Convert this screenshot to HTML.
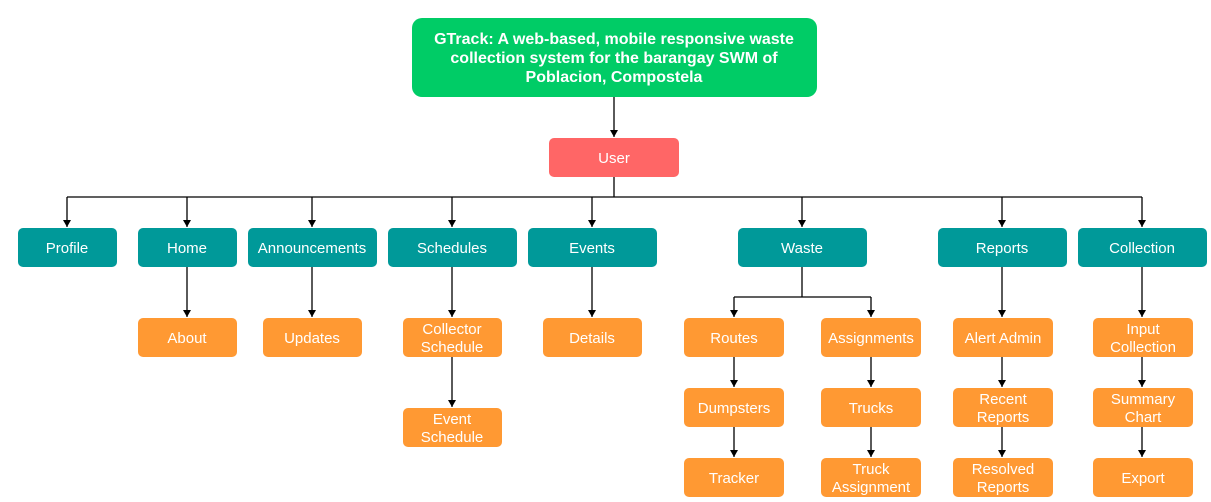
<!DOCTYPE html>
<html><head><meta charset="utf-8"><style>
html,body{margin:0;padding:0;background:#fff;width:1211px;height:502px;overflow:hidden}
svg text{font-family:"Liberation Sans",Arial,sans-serif;font-size:15px;fill:#fff;text-anchor:middle}
svg text.t{font-size:16px;font-weight:bold}
</style></head><body>
<svg width="1211" height="502" viewBox="0 0 1211 502" xmlns="http://www.w3.org/2000/svg">
<defs><marker id="a" markerWidth="8" markerHeight="8" refX="7" refY="4" orient="auto" markerUnits="userSpaceOnUse"><path d="M0,0 L7,4 L0,8 z" fill="#000"/></marker></defs>
<g stroke="#000" stroke-width="1.3" fill="none">
<line x1="614" y1="97" x2="614" y2="137" marker-end="url(#a)"/>
<line x1="614" y1="177" x2="614" y2="197"/>
<line x1="67" y1="197" x2="1142" y2="197"/>
<line x1="67" y1="197" x2="67" y2="227" marker-end="url(#a)"/>
<line x1="187" y1="197" x2="187" y2="227" marker-end="url(#a)"/>
<line x1="312" y1="197" x2="312" y2="227" marker-end="url(#a)"/>
<line x1="452" y1="197" x2="452" y2="227" marker-end="url(#a)"/>
<line x1="592" y1="197" x2="592" y2="227" marker-end="url(#a)"/>
<line x1="802" y1="197" x2="802" y2="227" marker-end="url(#a)"/>
<line x1="1002" y1="197" x2="1002" y2="227" marker-end="url(#a)"/>
<line x1="1142" y1="197" x2="1142" y2="227" marker-end="url(#a)"/>
<line x1="187" y1="267" x2="187" y2="317" marker-end="url(#a)"/>
<line x1="312" y1="267" x2="312" y2="317" marker-end="url(#a)"/>
<line x1="452" y1="267" x2="452" y2="317" marker-end="url(#a)"/>
<line x1="592" y1="267" x2="592" y2="317" marker-end="url(#a)"/>
<line x1="452" y1="357" x2="452" y2="407" marker-end="url(#a)"/>
<line x1="802" y1="267" x2="802" y2="297"/>
<line x1="734" y1="297" x2="871" y2="297"/>
<line x1="734" y1="297" x2="734" y2="317" marker-end="url(#a)"/>
<line x1="871" y1="297" x2="871" y2="317" marker-end="url(#a)"/>
<line x1="734" y1="357" x2="734" y2="387" marker-end="url(#a)"/>
<line x1="734" y1="427" x2="734" y2="457" marker-end="url(#a)"/>
<line x1="871" y1="357" x2="871" y2="387" marker-end="url(#a)"/>
<line x1="871" y1="427" x2="871" y2="457" marker-end="url(#a)"/>
<line x1="1002" y1="267" x2="1002" y2="317" marker-end="url(#a)"/>
<line x1="1002" y1="357" x2="1002" y2="387" marker-end="url(#a)"/>
<line x1="1002" y1="427" x2="1002" y2="457" marker-end="url(#a)"/>
<line x1="1142" y1="267" x2="1142" y2="317" marker-end="url(#a)"/>
<line x1="1142" y1="357" x2="1142" y2="387" marker-end="url(#a)"/>
<line x1="1142" y1="427" x2="1142" y2="457" marker-end="url(#a)"/>
</g>
<rect x="412" y="18" width="405" height="79" rx="10" fill="#00CC66"/>
<text class="t" x="614" y="44">GTrack: A web-based, mobile responsive waste</text>
<text class="t" x="614" y="63">collection system for the barangay SWM of</text>
<text class="t" x="614" y="82">Poblacion, Compostela</text>
<rect x="549" y="138" width="130" height="39" rx="5" fill="#FF6666"/>
<text x="614" y="163">User</text>
<g fill="#009999">
<rect x="18" y="228" width="99" height="39" rx="5"/>
<rect x="138" y="228" width="99" height="39" rx="5"/>
<rect x="248" y="228" width="129" height="39" rx="5"/>
<rect x="388" y="228" width="129" height="39" rx="5"/>
<rect x="528" y="228" width="129" height="39" rx="5"/>
<rect x="738" y="228" width="129" height="39" rx="5"/>
<rect x="938" y="228" width="129" height="39" rx="5"/>
<rect x="1078" y="228" width="129" height="39" rx="5"/>
</g>
<text x="67" y="253">Profile</text>
<text x="187" y="253">Home</text>
<text x="312" y="253">Announcements</text>
<text x="452" y="253">Schedules</text>
<text x="592" y="253">Events</text>
<text x="802" y="253">Waste</text>
<text x="1002" y="253">Reports</text>
<text x="1142" y="253">Collection</text>
<g fill="#FF9933">
<rect x="138" y="318" width="99" height="39" rx="5"/>
<rect x="263" y="318" width="99" height="39" rx="5"/>
<rect x="403" y="318" width="99" height="39" rx="5"/>
<rect x="543" y="318" width="99" height="39" rx="5"/>
<rect x="684" y="318" width="100" height="39" rx="5"/>
<rect x="821" y="318" width="100" height="39" rx="5"/>
<rect x="953" y="318" width="100" height="39" rx="5"/>
<rect x="1093" y="318" width="100" height="39" rx="5"/>
<rect x="403" y="408" width="99" height="39" rx="5"/>
<rect x="684" y="388" width="100" height="39" rx="5"/>
<rect x="821" y="388" width="100" height="39" rx="5"/>
<rect x="953" y="388" width="100" height="39" rx="5"/>
<rect x="1093" y="388" width="100" height="39" rx="5"/>
<rect x="684" y="458" width="100" height="39" rx="5"/>
<rect x="821" y="458" width="100" height="39" rx="5"/>
<rect x="953" y="458" width="100" height="39" rx="5"/>
<rect x="1093" y="458" width="100" height="39" rx="5"/>
</g>
<text x="187" y="343">About</text>
<text x="312" y="343">Updates</text>
<text x="452" y="334">Collector</text><text x="452" y="352">Schedule</text>
<text x="592" y="343">Details</text>
<text x="734" y="343">Routes</text>
<text x="871" y="343">Assignments</text>
<text x="1003" y="343">Alert Admin</text>
<text x="1143" y="334">Input</text><text x="1143" y="352">Collection</text>
<text x="452" y="424">Event</text><text x="452" y="442">Schedule</text>
<text x="734" y="413">Dumpsters</text>
<text x="871" y="413">Trucks</text>
<text x="1003" y="404">Recent</text><text x="1003" y="422">Reports</text>
<text x="1143" y="404">Summary</text><text x="1143" y="422">Chart</text>
<text x="734" y="483">Tracker</text>
<text x="871" y="474">Truck</text><text x="871" y="492">Assignment</text>
<text x="1003" y="474">Resolved</text><text x="1003" y="492">Reports</text>
<text x="1143" y="483">Export</text>
</svg>
</body></html>
